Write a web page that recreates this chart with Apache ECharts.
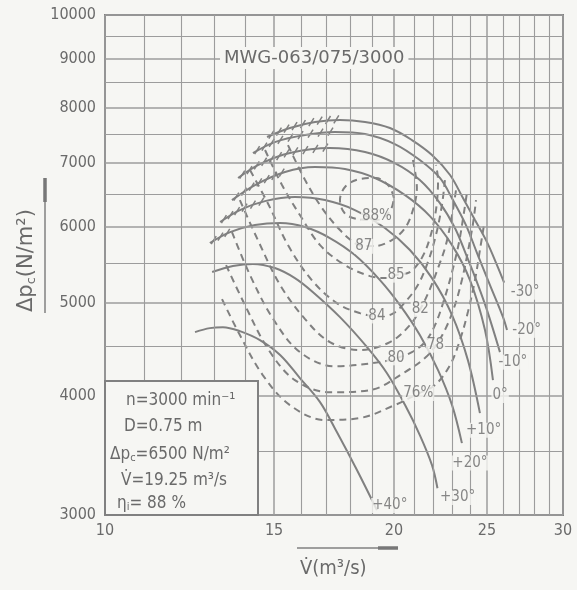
<!DOCTYPE html>
<html>
<head>
<meta charset="utf-8">
<script src="https://cdn.jsdelivr.net/npm/echarts@6/dist/echarts.min.js"></script>
<style>
  html, body { margin: 0; padding: 0; background: #f6f6f3; }
  #chart { width: 577px; height: 590px; }
</style>
</head>
<body>
<div id="chart"></div>
<script>
// axis ticks and grid
const flowTicks = [10, 15, 20, 25, 30];
const pressureTicks = [3000, 4000, 5000, 6000, 7000, 8000, 9000, 10000];
const flowGridLines = [11, 12, 13, 14, 16, 17, 18, 19, 21, 22, 23, 24, 26, 27, 28, 29];
const pressureGridLines = [3500, 4500, 5500, 6500, 7500, 8500, 9500];

// blade angle curves [flow m3/s, pressure N/m2]
const bladeMinus30 = [[14.75,7454],[15.58,7617],[16.55,7728],[17.57,7766],[18.66,7728],[19.81,7617],[20.88,7400],[21.91,7138],[22.88,6802],[23.60,6435],[24.29,6103],[25.00,5788],[25.6,5480],[26.05,5250]];
const bladeMinus20 = [[14.26,7172],[15.03,7364],[16.16,7490],[17.36,7544],[18.66,7508],[20.04,7329],[21.28,7052],[22.33,6754],[23.04,6404],[23.77,6030],[24.41,5637],[25.18,5219],[25.98,4831],[26.23,4683]];
const bladeMinus10 = [[13.76,6754],[14.50,6983],[15.58,7172],[17.15,7259],[18.66,7189],[20.04,7000],[21.28,6720],[22.33,6358],[23.15,5987],[23.83,5584],[24.47,5219],[25.00,4913],[25.79,4441]];
const bladeZero = [[13.56,6404],[14.33,6640],[15.40,6852],[16.55,6934],[17.78,6901],[19.11,6754],[20.54,6481],[21.80,6162],[22.99,5746],[24.00,5282],[24.88,4683],[25.36,4151]];
const bladePlus10 = [[13.18,6074],[13.82,6252],[14.68,6388],[15.77,6450],[16.95,6404],[18.21,6252],[19.57,5987],[20.78,5678],[21.91,5307],[22.99,4855],[23.88,4356],[24.58,3834]];
const bladePlus20 = [[12.86,5775],[13.50,5929],[14.33,6030],[15.22,6060],[16.16,6001],[17.15,5845],[18.21,5610],[19.34,5282],[20.29,4973],[21.28,4627],[22.23,4253],[22.99,3909],[23.54,3567]];
const bladePlus30 = [[12.93,5385],[13.59,5463],[14.26,5492],[15.03,5437],[15.77,5307],[16.47,5130],[17.57,4831],[18.75,4494],[19.66,4223],[20.54,3909],[21.28,3637],[21.91,3383],[22.20,3200]];
const bladePlus40 = [[12.41,4660],[12.86,4705],[13.27,4716],[13.82,4671],[14.50,4571],[15.22,4410],[15.96,4172],[16.75,3937],[17.44,3663],[18.30,3343],[19.20,3035]];

const angleNames = ['-30°', '-20°', '-10°', '0°', '+10°', '+20°', '+30°', '+40°'];
const angleLabelAt = [[27.4,5130],[27.5,4680],[26.6,4335],[25.8,4000],[24.8,3680],[24.0,3400],[23.3,3130],[19.8,3070]];
// flow up to which the left (unstable) part of each curve is hatched
const stallFlow = [17.6, 17.4, 17.2, 15.5, 14.7, 13.6, 0, 0];

// efficiency contours
const eff88 = [[20.00,6435],[19.76,6624],[19.16,6754],[18.43,6737],[17.82,6624],[17.57,6404],[17.78,6200],[18.34,6118],[19.20,6103],[19.81,6237],[20.00,6435]];
const eff87 = [[15.51,7311],[16.16,6720],[16.83,6283],[17.57,5958],[18.21,5775],[18.60,5732],[19.07,5732],[19.90,5816],[20.54,5987],[20.93,6252],[21.13,6592],[20.93,7052]];
const eff85 = [[14.68,7224],[15.29,6640],[15.96,6177],[16.75,5746],[17.78,5476],[18.88,5333],[19.70,5307],[20.09,5346],[20.78,5385],[21.38,5571],[21.80,5845],[22.12,6252],[22.23,6720],[22.12,6968]];
const eff84 = [[14.16,6885],[14.81,6329],[15.51,5746],[16.42,5282],[17.44,4997],[18.43,4878],[19.20,4843],[19.90,4866],[20.54,5008],[21.18,5219],[21.70,5518],[22.12,5887],[22.44,6329],[22.60,6720]];
const eff82 = [[13.82,6404],[14.43,5816],[15.22,5219],[16.16,4808],[17.15,4549],[18.43,4463],[19.81,4549],[20.78,4739],[21.33,4936],[21.80,5168],[22.23,5437],[22.65,5746],[22.99,6177],[23.21,6560]];
const eff80 = [[13.56,5929],[14.16,5346],[14.95,4820],[15.96,4441],[17.36,4292],[19.34,4335],[20.13,4378],[20.88,4441],[21.54,4549],[22.07,4739],[22.55,5033],[22.99,5385],[23.38,5788],[23.66,6222],[23.83,6528]];
const eff78 = [[13.37,5476],[13.99,4973],[14.81,4463],[15.77,4151],[17.15,4032],[18.88,4052],[20.54,4233],[21.54,4378],[22.12,4516],[22.65,4705],[23.15,4973],[23.54,5282],[23.88,5655],[24.18,6060],[24.35,6404]];
const eff76 = [[13.24,5045],[13.82,4627],[14.60,4202],[15.58,3909],[16.95,3771],[18.43,3789],[20.04,3909],[21.23,4022],[22.07,4102],[22.88,4304],[23.43,4571],[23.88,4890],[24.29,5282],[24.58,5678],[24.82,6030]];

const effLabels = ['88%', '87', '85', '84', '82', '80', '78', '76%'];
const effLabelAt = [[19.2,6160],[18.6,5730],[20.1,5345],[19.2,4845],[21.3,4920],[20.1,4380],[22.1,4515],[21.2,4020]];

const ratedLines = ['n=3000 min⁻¹', 'D=0.75 m', 'Δp{sub|c}=6500 N/m²', 'V̇=19.25 m³/s', 'η{sub|i}= 88 %'];

const BG = '#f6f6f3';
const INK = '#808080';
const TXT = '#6a6a6a';
const FONT = '"DejaVu Sans Condensed", "DejaVu Sans", sans-serif';

const bladeCurves = [bladeMinus30, bladeMinus20, bladeMinus10, bladeZero, bladePlus10, bladePlus20, bladePlus30, bladePlus40];
const effCurves = [eff88, eff87, eff85, eff84, eff82, eff80, eff78, eff76];

// hatched segments of the unstable branches
const hatchSegments = [];
bladeCurves.forEach((c, k) => {
  for (let i = 0; i < c.length - 1; i++) {
    if (c[i + 1][0] <= stallFlow[k]) {
      hatchSegments.push([c[i][0], c[i][1], c[i + 1][0], c[i + 1][1]]);
    }
  }
});

function renderHatch(params, api) {
  const a = api.coord([api.value(0), api.value(1)]);
  const b = api.coord([api.value(2), api.value(3)]);
  const dx = b[0] - a[0], dy = b[1] - a[1];
  const len = Math.sqrt(dx * dx + dy * dy);
  const n = Math.max(1, Math.round(len / 9));
  const children = [];
  for (let i = 0; i < n; i++) {
    const t = (i + 0.5) / n;
    const x = a[0] + dx * t, y = a[1] + dy * t;
    children.push({
      type: 'line',
      shape: { x1: x - 2, y1: y + 3, x2: x + 3, y2: y - 5 },
      style: { stroke: INK, lineWidth: 1.5 }
    });
  }
  return { type: 'group', children };
}

const gridLineData = [];
flowTicks.forEach(v => gridLineData.push({
  xAxis: v, lineStyle: { width: 1.5 },
  label: { show: true, position: 'start', distance: 8, formatter: String(v) }
}));
flowGridLines.forEach(v => gridLineData.push({ xAxis: v }));
pressureTicks.forEach(v => gridLineData.push({
  yAxis: v, lineStyle: { width: 1.5 },
  label: { show: true, position: 'start', distance: 9, formatter: String(v) }
}));
pressureGridLines.forEach(v => gridLineData.push({ yAxis: v }));

const series = [{
  type: 'line',
  data: [],
  z: 1,
  markLine: {
    silent: true,
    symbol: 'none',
    animation: false,
    lineStyle: { color: '#9c9c9c', width: 1.1, type: 'solid' },
    label: { show: false, color: TXT, fontSize: 16, fontFamily: FONT },
    data: gridLineData
  }
}];

bladeCurves.forEach((c, k) => {
  series.push({
    type: 'line', name: angleNames[k], data: c, z: 3,
    showSymbol: false, smooth: 0.35,
    lineStyle: { color: INK, width: 2 }
  });
});
effCurves.forEach((c, k) => {
  series.push({
    type: 'line', name: effLabels[k], data: c, z: 3,
    showSymbol: false, smooth: 0.35,
    lineStyle: { color: INK, width: 2, type: [7, 5] }
  });
});
series.push({
  type: 'custom', z: 3,
  renderItem: renderHatch,
  encode: { x: [0, 2], y: [1, 3] },
  data: hatchSegments
});
series.push({
  type: 'scatter', z: 5, symbolSize: 0,
  data: effLabelAt.map((p, i) => ({ value: p, name: effLabels[i] })),
  label: {
    show: true, position: 'inside', formatter: '{b}',
    color: TXT, fontSize: 15, fontFamily: FONT,
    backgroundColor: BG, padding: [0, 1]
  }
});
series.push({
  type: 'scatter', z: 5, symbolSize: 0,
  data: angleLabelAt.map((p, i) => ({ value: p, name: angleNames[i] })),
  label: {
    show: true, position: 'inside', formatter: '{b}',
    color: TXT, fontSize: 15, fontFamily: FONT,
    backgroundColor: BG, padding: [0, 1]
  }
});

const chart = echarts.init(document.getElementById('chart'));
chart.setOption({
  animation: false,
  backgroundColor: BG,
  grid: { left: 105, top: 15, width: 458, height: 500, show: true, borderColor: INK, borderWidth: 2 },
  xAxis: {
    type: 'log', logBase: 10, min: 10, max: 30,
    axisLine: { show: false }, axisTick: { show: false },
    axisLabel: { show: false }, splitLine: { show: false }
  },
  yAxis: {
    type: 'log', logBase: 10, min: 3000, max: 10000,
    axisLine: { show: false }, axisTick: { show: false },
    axisLabel: { show: false }, splitLine: { show: false }
  },
  graphic: [
    {
      type: 'text', left: 220, top: 47, z: 10,
      style: { text: 'MWG-063/075/3000', fill: TXT, font: '18px "DejaVu Sans", sans-serif',
        backgroundColor: BG, padding: [2, 4] }
    },
    {
      type: 'rect', z: 10,
      shape: { x: 105, y: 381, width: 153, height: 134 },
      style: { fill: BG, stroke: INK, lineWidth: 2 }
    },
    ...ratedLines.map((t, i) => ({
      type: 'text', z: 11,
      x: [126, 124, 110, 121, 117][i], y: [392, 418, 445, 472, 494][i],
      style: {
        text: t, fill: TXT, font: '17px ' + FONT,
        rich: { sub: { fontSize: 11, fontFamily: FONT, fill: TXT, padding: [8, 0, 0, 0] } }
      }
    })),
    {
      type: 'text', z: 10, x: 15, y: 312, rotation: Math.PI / 2,
      style: {
        text: 'Δp{sub|c}(N/m²)', fill: TXT, font: '21px "DejaVu Sans", sans-serif',
        rich: { sub: { fontSize: 13, fontFamily: 'DejaVu Sans', fill: TXT, padding: [10, 0, 0, 0] } }
      }
    },
    { type: 'line', z: 10, shape: { x1: 45, y1: 200, x2: 45, y2: 313 }, style: { stroke: INK, lineWidth: 1.5 } },
    { type: 'line', z: 10, shape: { x1: 45, y1: 178, x2: 45, y2: 202 }, style: { stroke: '#777777', lineWidth: 3.5 } },
    {
      type: 'text', z: 10, x: 300, y: 559,
      style: { text: 'V̇(m³/s)', fill: TXT, font: '20px ' + FONT }
    },
    { type: 'line', z: 10, shape: { x1: 297, y1: 548, x2: 380, y2: 548 }, style: { stroke: INK, lineWidth: 1.5 } },
    { type: 'line', z: 10, shape: { x1: 378, y1: 548, x2: 398, y2: 548 }, style: { stroke: '#777777', lineWidth: 3.5 } }
  ],
  series: series
});
</script>
</body>
</html>
